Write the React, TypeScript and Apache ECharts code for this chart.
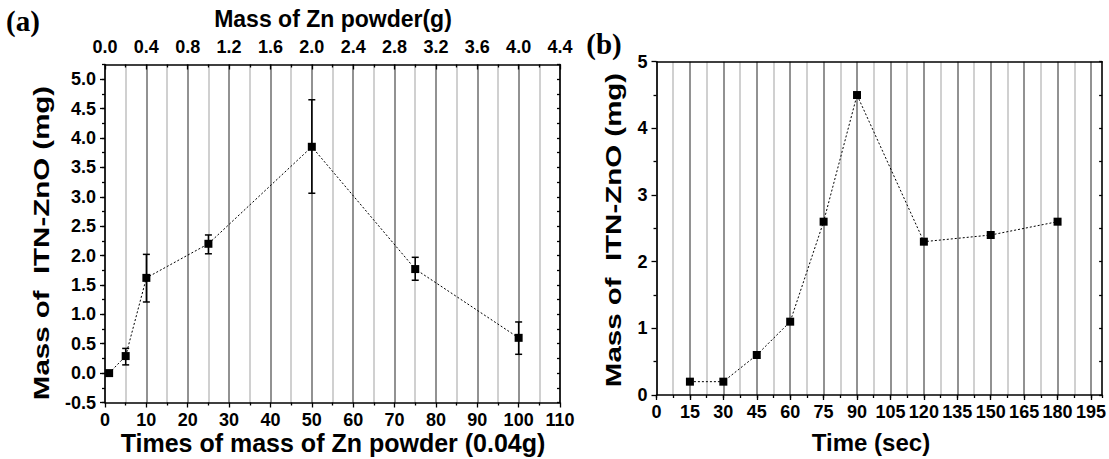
import React, { useEffect, useRef } from "react";
import * as echarts from "echarts";

// ---- Panel (a) data ----
const timesX = [1, 5, 10, 25, 50, 75, 100];
const massA = [0, 0.29, 1.62, 2.2, 3.85, 1.77, 0.6];
const errLowA = [null, 0.14, 1.21, 2.03, 3.06, 1.58, 0.32];
const errHighA = [null, 0.42, 2.02, 2.35, 4.65, 1.97, 0.87];
const yTicksA = [-0.5, 0, 0.5, 1, 1.5, 2, 2.5, 3, 3.5, 4, 4.5, 5];
const topTicksA = [0, 0.4, 0.8, 1.2, 1.6, 2.0, 2.4, 2.8, 3.2, 3.6, 4.0, 4.4];

// ---- Panel (b) data ----
const timeX = [15, 30, 45, 60, 75, 90, 120, 150, 180];
const massB = [0.2, 0.2, 0.6, 1.1, 2.6, 4.5, 2.3, 2.4, 2.6];
const xTicksB = [0, 15, 30, 45, 60, 75, 90, 105, 120, 135, 150, 165, 180, 195];

const FONT = "'Liberation Sans', Arial, sans-serif";
const DARK = "#929292";
const LIGHT = "#d0d0d0";
const tickLabel = { color: "#000", fontWeight: "bold" as const, fontSize: 18, fontFamily: FONT };

export default function App() {
  const ref = useRef<HTMLDivElement>(null);
  useEffect(() => {
    if (!ref.current) return;
    const chart = echarts.init(ref.current, null, { renderer: "svg" });
    const gA = { left: 105, top: 64.5, width: 455, height: 338 };
    const gB = { left: 656.5, top: 61.7, width: 447, height: 333.3 };
    const axisLine = { show: true, onZero: false, lineStyle: { color: "#000", width: 1.5 } };
    const tickStyle = { color: "#000", width: 1.3 };
    const errData = timesX
      .map((x, i) => (errLowA[i] == null ? null : [x, errLowA[i], errHighA[i]]))
      .filter((d) => d !== null);

    const option: any = {
      animation: false,
      backgroundColor: "#fff",
      grid: [
        { ...gA, containLabel: false },
        { ...gB, containLabel: false },
      ],
      xAxis: [
        {
          gridIndex: 0, type: "value", position: "bottom", min: 0, max: 110, interval: 10,
          axisLine, axisTick: { show: true, length: 5, lineStyle: tickStyle },
          minorTick: { show: true, splitNumber: 2, length: 3, lineStyle: tickStyle },
          splitLine: { show: true, lineStyle: { color: DARK, width: 2 } },
          minorSplitLine: { show: true, lineStyle: { color: LIGHT, width: 2 } },
          axisLabel: { ...tickLabel, margin: 8 },
        },
        {
          gridIndex: 0, type: "value", position: "top", min: 0, max: 4.4, interval: 0.4,
          axisLine, axisTick: { show: true, inside: true, length: 5, lineStyle: tickStyle },
          minorTick: { show: true, splitNumber: 2, length: 3, lineStyle: tickStyle },
          splitLine: { show: false },
          axisLabel: { ...tickLabel, margin: 9, customValues: topTicksA, formatter: (v: number) => v.toFixed(1) },
        },
        {
          gridIndex: 1, type: "value", position: "bottom", min: 0, max: 200, interval: 15,
          axisLine, axisTick: { show: true, length: 5, customValues: xTicksB, lineStyle: tickStyle },
          splitLine: { show: false },
          axisLabel: { ...tickLabel, margin: 8, customValues: xTicksB, formatter: (v: number) => String(v) },
        },
        {
          gridIndex: 1, type: "value", position: "bottom", min: 0, max: 200, interval: 7.5,
          axisLine: { show: false }, axisLabel: { show: false },
          axisTick: { show: true, length: 3, lineStyle: tickStyle },
          splitLine: { show: true, lineStyle: { color: [DARK, LIGHT], width: 2 } },
        },
        {
          gridIndex: 1, type: "value", position: "top", min: 0, max: 200,
          axisLine, axisTick: { show: false }, axisLabel: { show: false }, splitLine: { show: false },
        },
      ],
      yAxis: [
        {
          gridIndex: 0, type: "value", position: "left", min: -0.5, max: 5.25, interval: 0.5,
          axisLine, axisTick: { show: true, length: 5, customValues: yTicksA, lineStyle: tickStyle },
          splitLine: { show: false },
          axisLabel: { ...tickLabel, margin: 9, customValues: yTicksA, formatter: (v: number) => v.toFixed(1) },
        },
        {
          gridIndex: 0, type: "value", position: "left", min: -0.5, max: 5.25, interval: 0.25,
          axisLine: { show: false }, axisLabel: { show: false },
          axisTick: { show: true, length: 3, lineStyle: tickStyle },
          splitLine: { show: false },
        },
        {
          gridIndex: 0, type: "value", position: "right", min: -0.5, max: 5.25, interval: 0.25,
          axisLine, axisLabel: { show: false },
          axisTick: { show: true, inside: true, length: 3, lineStyle: tickStyle },
          splitLine: { show: false },
        },
        {
          gridIndex: 1, type: "value", position: "left", min: 0, max: 5, interval: 1,
          axisLine, axisTick: { show: true, length: 5, lineStyle: tickStyle },
          minorTick: { show: true, splitNumber: 2, length: 3, lineStyle: tickStyle },
          splitLine: { show: false },
          axisLabel: { ...tickLabel, margin: 9 },
        },
        {
          gridIndex: 1, type: "value", position: "right", min: 0, max: 5, interval: 0.5,
          axisLine, axisLabel: { show: false },
          axisTick: { show: true, inside: true, length: 3, lineStyle: tickStyle },
          splitLine: { show: false },
        },
      ],
      series: [
        {
          type: "line", xAxisIndex: 0, yAxisIndex: 0,
          data: timesX.map((x, i) => [x, massA[i]]),
          symbol: "rect", symbolSize: 8,
          itemStyle: { color: "#000" },
          lineStyle: { color: "#000", width: 1, type: [2, 2] },
          z: 5,
        },
        {
          type: "custom", xAxisIndex: 0, yAxisIndex: 0,
          data: errData,
          encode: { x: 0, y: [1, 2] },
          renderItem: (_p: any, api: any) => {
            const x = api.value(0);
            const lo = api.coord([x, api.value(1)]);
            const hi = api.coord([x, api.value(2)]);
            const w = 3.5;
            const st = { stroke: "#000", lineWidth: 1.5 };
            return {
              type: "group",
              children: [
                { type: "line", shape: { x1: lo[0], y1: lo[1], x2: hi[0], y2: hi[1] }, style: st },
                { type: "line", shape: { x1: lo[0] - w, y1: lo[1], x2: lo[0] + w, y2: lo[1] }, style: st },
                { type: "line", shape: { x1: hi[0] - w, y1: hi[1], x2: hi[0] + w, y2: hi[1] }, style: st },
              ],
            };
          },
          z: 4,
        },
        {
          type: "line", xAxisIndex: 2, yAxisIndex: 3,
          data: timeX.map((x, i) => [x, massB[i]]),
          symbol: "rect", symbolSize: 8,
          itemStyle: { color: "#000" },
          lineStyle: { color: "#000", width: 1, type: [2, 2] },
          z: 5,
        },
      ],
      graphic: [
        { type: "text", x: 23, y: 21, style: { text: "(a)", font: "bold 29px 'Liberation Serif', 'Times New Roman', serif", fill: "#000", textAlign: "center", textVerticalAlign: "middle" } },
        { type: "text", x: 604, y: 44, style: { text: "(b)", font: "bold 29px 'Liberation Serif', 'Times New Roman', serif", fill: "#000", textAlign: "center", textVerticalAlign: "middle" } },
        { type: "text", x: 333, y: 19, style: { text: "Mass of Zn powder(g)", font: `bold 23px ${FONT}`, fill: "#000", textAlign: "center", textVerticalAlign: "middle" } },
        { type: "text", x: 333, y: 443, style: { text: "Times of mass of Zn powder (0.04g)", font: `bold 25px ${FONT}`, fill: "#000", textAlign: "center", textVerticalAlign: "middle" } },
        { type: "text", x: 871, y: 442, style: { text: "Time (sec)", font: `bold 24px ${FONT}`, fill: "#000", textAlign: "center", textVerticalAlign: "middle" } },
        { type: "text", x: 41, y: 243, rotation: Math.PI / 2, scaleX: 1.34, style: { text: "Mass of  ITN-ZnO (mg)", font: `bold 22px ${FONT}`, fill: "#000", textAlign: "center", textVerticalAlign: "middle" } },
        { type: "text", x: 613, y: 230, rotation: Math.PI / 2, scaleX: 1.34, style: { text: "Mass of  ITN-ZnO (mg)", font: `bold 22px ${FONT}`, fill: "#000", textAlign: "center", textVerticalAlign: "middle" } },
      ],
    };
    chart.setOption(option);
    return () => chart.dispose();
  }, []);
  return <div ref={ref} style={{ position: "absolute", left: 0, top: 0, width: 1109, height: 459 }} />;
}
